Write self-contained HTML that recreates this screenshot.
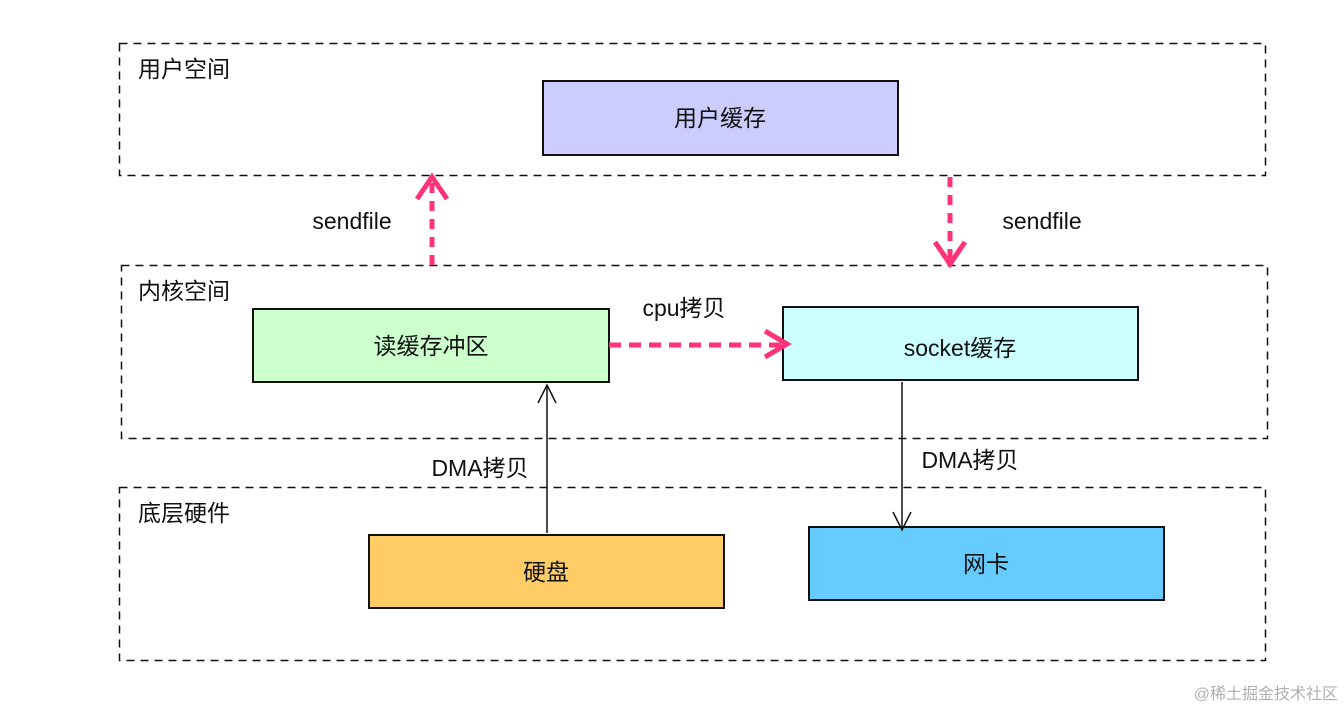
<!DOCTYPE html>
<html><head><meta charset="utf-8"><style>
html,body{margin:0;padding:0;background:#fff;}
svg{display:block;}
text{font-family:"Liberation Sans","Noto Sans CJK SC",sans-serif;font-size:23px;fill:#111;}
</style></head><body>
<svg width="1344" height="712" viewBox="0 0 1344 712">
<g fill="none" stroke="#111" stroke-width="1.5" stroke-dasharray="8,6">
<rect x="119.5" y="43.5" width="1146" height="132"/>
<rect x="121.5" y="265.5" width="1146" height="173"/>
<rect x="119.5" y="487.5" width="1146" height="173"/>
</g>
<text x="138" y="77">用户空间</text>
<text x="138" y="299">内核空间</text>
<text x="138" y="521">底层硬件</text>
<g stroke="#111" stroke-width="2">
<rect x="543" y="81" width="355" height="74" fill="#ccccff"/>
<rect x="253" y="309" width="356" height="73" fill="#ccffcc"/>
<rect x="783" y="307" width="355" height="73" fill="#ccffff"/>
<rect x="369" y="535" width="355" height="73" fill="#ffcc66"/>
<rect x="809" y="527" width="355" height="73" fill="#66ccff"/>
</g>
<g text-anchor="middle">
<text x="720" y="126">用户缓存</text>
<text x="431" y="354">读缓存冲区</text>
<text x="960" y="356">socket缓存</text>
<text x="546" y="580">硬盘</text>
<text x="986" y="572">网卡</text>
<text x="352" y="229">sendfile</text>
<text x="1042" y="229">sendfile</text>
<text x="684" y="316">cpu拷贝</text>
<text x="480" y="476">DMA拷贝</text>
<text x="970" y="468">DMA拷贝</text>
</g>
<g stroke="#ff3377" stroke-width="5" fill="none">
<line x1="432" y1="265" x2="432" y2="180" stroke-dasharray="10,8"/>
<polyline points="417,199 432,177 447,199"/>
<line x1="950" y1="177" x2="950" y2="262" stroke-dasharray="10,8"/>
<polyline points="935,242 950,264 965,242"/>
<line x1="609" y1="345" x2="785" y2="345" stroke-dasharray="12,8"/>
<polyline points="765,331 787,344 765,357"/>
</g>
<g stroke="#111" stroke-width="1.5" fill="none">
<line x1="547" y1="533" x2="547" y2="385"/>
<polyline points="538,403 547,385 556,403"/>
<line x1="902" y1="382" x2="902" y2="530"/>
<polyline points="893,512 902,530 911,512"/>
</g>
<text x="1338" y="699" text-anchor="end" style="font-size:16px;fill:#b0b0b0">@稀土掘金技术社区</text>
</svg>
</body></html>
